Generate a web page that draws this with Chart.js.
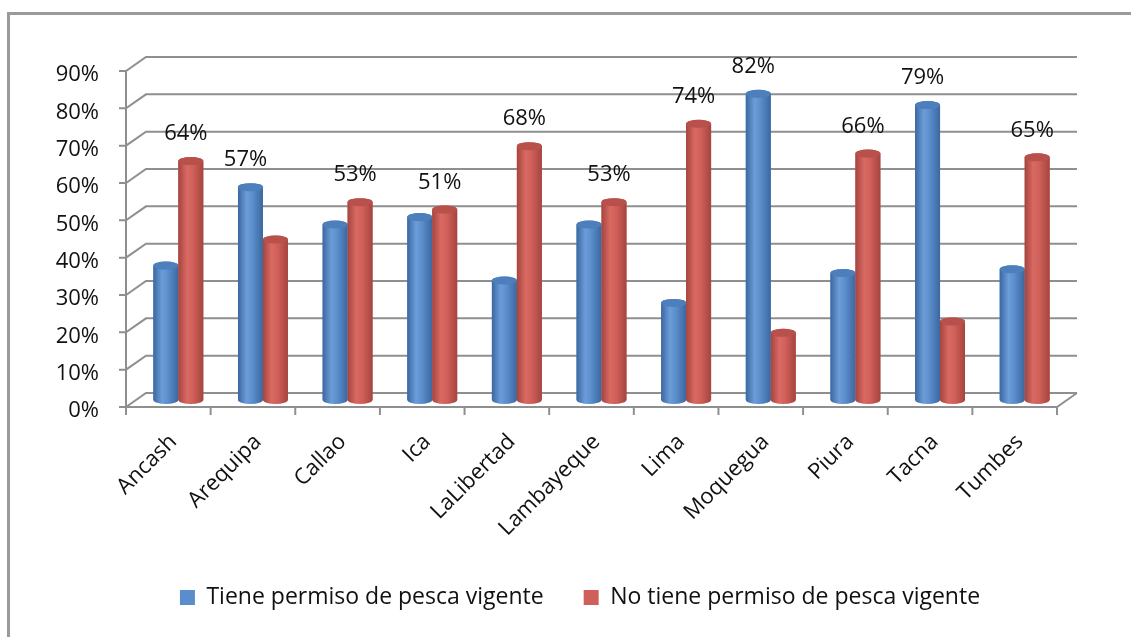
<!DOCTYPE html>
<html>
<head>
<meta charset="utf-8">
<script src="https://cdn.jsdelivr.net/npm/chart.js@4.4.1/dist/chart.umd.min.js"></script>
<style>
  html, body { margin: 0; padding: 0; background: #fff; overflow: hidden; }
  #wrap { position: relative; width: 1131px; height: 637px; overflow: hidden; }
  #frame { position: absolute; left: 7px; top: 12px; width: 1200px; height: 700px;
           border-left: 3px solid #9a9a9a; border-top: 3px solid #9a9a9a; }
  #chart { position: absolute; left: 0; top: 0; }
</style>
</head>
<body>
<div id="wrap">
  <div id="frame"></div>
  <canvas id="chart" width="1131" height="637"></canvas>
</div>
<script>
// datos (porcentaje de pescadores por region)
const regiones = ['Ancash', 'Arequipa', 'Callao', 'Ica', 'LaLibertad', 'Lambayeque',
                  'Lima', 'Moquegua', 'Piura', 'Tacna', 'Tumbes'];
const conPermiso = [36, 57, 47, 49, 32, 47, 26, 82, 34, 79, 35];
const sinPermiso = [64, 43, 53, 51, 68, 53, 74, 18, 66, 21, 65];
const nombresSeries = ['Tiene permiso de pesca vigente', 'No tiene permiso de pesca vigente'];
const ticksY = [0, 10, 20, 30, 40, 50, 60, 70, 80, 90];

const fuente = '"Open Sans", "Liberation Sans", sans-serif';
const dx = 10, dy = 7;   // profundidad del efecto 3d
const colores = [
  { plano: '#5a8dcb', oscuro: '#3b679f', claro: '#6c9dd9', tapa: '#4d7fbd' },
  { plano: '#cf5f58', oscuro: '#a5443f', claro: '#d96a63', tapa: '#b8514b' }
];

// pared del fondo, piso y ejes frontales
const paredPlugin = {
  id: 'pared',
  beforeDatasetsDraw(chart) {
    const { ctx, chartArea: a, scales: { x, y } } = chart;
    ctx.save();
    ctx.strokeStyle = '#8f8f8f';
    ctx.lineWidth = 2;
    ticksY.forEach((v) => {
      const py = y.getPixelForValue(v);
      ctx.beginPath();
      ctx.moveTo(a.left - dx - 7, py + dy);
      ctx.lineTo(a.left - dx, py + dy);
      ctx.lineTo(a.left + dx, py - dy);
      ctx.lineTo(a.right + dx, py - dy);
      ctx.stroke();
    });
    const y0 = y.getPixelForValue(0);
    const yMax = y.getPixelForValue(ticksY[ticksY.length - 1]);
    ctx.beginPath();
    ctx.moveTo(a.left - dx, yMax + dy);
    ctx.lineTo(a.left - dx, y0 + dy);
    ctx.lineTo(a.right - dx, y0 + dy);
    ctx.lineTo(a.right + dx, y0 - dy);
    ctx.stroke();
    for (let i = 0; i <= regiones.length; i++) {
      const px = x.getPixelForValue(i - 0.5) - dx;
      ctx.beginPath();
      ctx.moveTo(px, y0 + dy);
      ctx.lineTo(px, y0 + dy + 8);
      ctx.stroke();
    }
    ctx.restore();
  }
};

// barras con forma de cilindro
const cilindroPlugin = {
  id: 'cilindros',
  afterDatasetsDraw(chart) {
    const ctx = chart.ctx;
    chart.data.datasets.forEach((ds, di) => {
      const c = colores[di];
      chart.getDatasetMeta(di).data.forEach((bar) => {
        const { x, y, base, width } = bar.getProps(['x', 'y', 'base', 'width'], true);
        const rx = width / 2, ry = 4;
        const l = x - rx, r = x + rx;
        const g = ctx.createLinearGradient(l, 0, r, 0);
        g.addColorStop(0, c.oscuro);
        g.addColorStop(0.35, c.claro);
        g.addColorStop(0.6, c.plano);
        g.addColorStop(1, c.oscuro);
        ctx.save();
        ctx.fillStyle = g;
        ctx.beginPath();
        ctx.moveTo(l, y);
        ctx.lineTo(l, base);
        ctx.ellipse(x, base, rx, ry, 0, Math.PI, 0, true);
        ctx.lineTo(r, y);
        ctx.ellipse(x, y, rx, ry, 0, 0, Math.PI, true);
        ctx.closePath();
        ctx.fill();
        ctx.fillStyle = c.tapa;
        ctx.beginPath();
        ctx.ellipse(x, y, rx, ry, 0, 0, Math.PI * 2);
        ctx.fill();
        ctx.restore();
      });
    });
  }
};

// etiqueta sobre la barra mayor de cada region
const etiquetasPlugin = {
  id: 'etiquetas',
  afterDatasetsDraw(chart) {
    const ctx = chart.ctx;
    ctx.save();
    ctx.font = '22px ' + fuente;
    ctx.fillStyle = '#111';
    ctx.textAlign = 'center';
    ctx.textBaseline = 'middle';
    regiones.forEach((reg, i) => {
      const di = conPermiso[i] > sinPermiso[i] ? 0 : 1;
      const valor = chart.data.datasets[di].data[i];
      const bar = chart.getDatasetMeta(di).data[i];
      ctx.fillText(valor + '%', bar.x - 5, bar.y - 27);
    });
    ctx.restore();
  }
};

new Chart(document.getElementById('chart'), {
  type: 'bar',
  data: {
    labels: regiones,
    datasets: [
      { label: nombresSeries[0], data: conPermiso, backgroundColor: colores[0].plano },
      { label: nombresSeries[1], data: sinPermiso, backgroundColor: colores[1].plano }
    ]
  },
  options: {
    responsive: false,
    animation: false,
    devicePixelRatio: 1,
    categoryPercentage: 0.59,
    barPercentage: 1.0,
    layout: { padding: { left: 40, right: 11, top: 64, bottom: 18 } },
    scales: {
      x: {
        afterFit(scale) { scale.height = 146; },
        grid: { display: false, drawTicks: false },
        border: { display: false },
        ticks: {
          autoSkip: false, minRotation: 45, maxRotation: 45, padding: 29, labelOffset: -5,
          color: '#111', font: { family: fuente, size: 22 }
        }
      },
      y: {
        min: 0, max: 90,
        afterFit(scale) { scale.width = 96; },
        grid: { display: false, drawTicks: false },
        border: { display: false },
        ticks: {
          stepSize: 10, padding: 37, labelOffset: 11,
          color: '#111', font: { family: fuente, size: 22 },
          callback: (v) => v + '%'
        }
      },
      // eje vacio a la derecha, solo para centrar la leyenda como en el original
      yDer: {
        position: 'right',
        display: true,
        afterFit(scale) { scale.width = 53; },
        grid: { display: false, drawTicks: false },
        border: { display: false },
        ticks: { display: false }
      }
    },
    plugins: {
      tooltip: { enabled: false },
      legend: {
        position: 'bottom',
        labels: {
          boxWidth: 15, boxHeight: 15, padding: 40,
          color: '#111', font: { family: fuente, size: 23 }
        }
      }
    }
  },
  plugins: [paredPlugin, cilindroPlugin, etiquetasPlugin]
});
</script>
</body>
</html>
